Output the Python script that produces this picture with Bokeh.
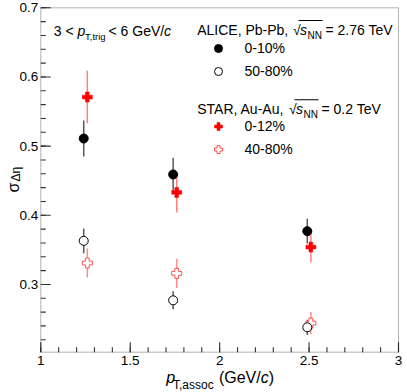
import numpy as np
from bokeh.plotting import figure
from bokeh.models import (Range1d, Label, Legend, LegendItem,
                          ColumnDataSource, BoxAnnotation)
from bokeh.core.properties import value
from bokeh.embed import file_html
from bokeh.resources import INLINE

# ---------------- data ----------------
x_alice = [1.24, 1.74, 2.49]
x_star = [1.26, 1.76, 2.51]

alice_central = [0.511, 0.459, 0.377]
alice_central_err = [0.026, 0.024, 0.018]
alice_periph = [0.363, 0.277, 0.238]
alice_periph_err = [0.018, 0.013, 0.011]

star_central = [0.571, 0.433, 0.354]
star_central_err = [0.038, 0.029, 0.022]
star_periph = [0.331, 0.316, 0.244]
star_periph_err = [0.021, 0.021, 0.016]

x_ticks = [1.0, 1.5, 2.0, 2.5, 3.0]
x_tick_labels = ["1", "1.5", "2", "2.5", "3"]
x_minor = [round(1 + 0.1 * i, 2) for i in range(21)]
y_ticks = [0.3, 0.4, 0.5, 0.6, 0.7]
y_tick_labels = ["0.3", "0.4", "0.5", "0.6", "0.7"]
y_minor = [round(0.22 + 0.02 * i, 2) for i in range(25)]

X_LO, X_HI = 1.0, 3.0
Y_LO, Y_HI = 0.202, 0.7

# ---------------- geometry (canvas px of the axes box) ----------------
W, H = 407, 392
FX0, FX1 = 40.3, 398.0
FY0, FY1 = 7.3, 351.7
KX = (X_HI - X_LO) / (FX1 - FX0)  # data per px
KY = (Y_HI - Y_LO) / (FY1 - FY0)
MAJ, MIN, TW = 10, 5, 1.1          # tick lengths and width, px


def dx(px):
    return X_LO + (px - FX0) * KX


def dy(py):
    return Y_HI - (py - FY0) * KY


FONT = "Liberation Sans"

p = figure(width=W, height=H, output_backend="svg", toolbar_location=None,
           x_range=Range1d(dx(0), dx(W)), y_range=Range1d(dy(H), dy(0)),
           x_axis_type=None, y_axis_type=None, min_border=0)
p.xgrid.visible = False
p.ygrid.visible = False
p.outline_line_color = None
p.background_fill_color = "white"
p.border_fill_color = "white"

# axes box
p.add_layout(BoxAnnotation(left=X_LO, right=X_HI, bottom=Y_LO, top=Y_HI,
                           fill_alpha=0, line_color="black", line_width=1))

# ticks pointing into the box, as thin filled bars built from the tick lists
xt_all = x_ticks + x_minor
xt_len = [MAJ] * len(x_ticks) + [MIN] * len(x_minor)
p.quad(left=[t - TW / 2 * KX for t in xt_all], right=[t + TW / 2 * KX for t in xt_all],
       bottom=[Y_LO] * len(xt_all), top=[Y_LO + n * KY for n in xt_len],
       fill_color="#333333", line_alpha=0)
yt_all = y_ticks + y_minor
yt_len = [MAJ] * len(y_ticks) + [MIN] * len(y_minor)
p.quad(left=[X_LO] * len(yt_all), right=[X_LO + n * KX for n in yt_len],
       bottom=[t - TW / 2 * KY for t in yt_all], top=[t + TW / 2 * KY for t in yt_all],
       fill_color="#333333", line_alpha=0)

# tick labels
p.text(x=x_ticks, y=[Y_LO] * len(x_ticks), text=x_tick_labels, y_offset=4,
       text_align="center", text_baseline="top", text_font=value(FONT),
       text_font_size=value("13.5px"), text_color="black")
p.text(x=[X_LO] * len(y_ticks), y=y_ticks, text=y_tick_labels, x_offset=-2.5,
       text_align="right", text_baseline="middle", text_font=value(FONT),
       text_font_size=value("13.5px"), text_color="black")


def src(xs, ys, es):
    return ColumnDataSource(dict(x=xs, y=ys,
                                 lo=[a - b for a, b in zip(ys, es)],
                                 hi=[a + b for a, b in zip(ys, es)]))


s_ac = src(x_alice, alice_central, alice_central_err)
s_ap = src(x_alice, alice_periph, alice_periph_err)
s_sc = src(x_star, star_central, star_central_err)
s_sp = src(x_star, star_periph, star_periph_err)

# error bars
p.segment(x0="x", y0="lo", x1="x", y1="hi", source=s_ac, line_color="black", line_alpha=0.65, line_width=1.5)
p.segment(x0="x", y0="lo", x1="x", y1="hi", source=s_ap, line_color="black", line_alpha=0.65, line_width=1.5)
p.segment(x0="x", y0="lo", x1="x", y1="hi", source=s_sc, line_color="red", line_alpha=0.5, line_width=1.5)
p.segment(x0="x", y0="lo", x1="x", y1="hi", source=s_sp, line_color="red", line_alpha=0.45, line_width=1.5)

# markers
r_sp = p.scatter("x", "y", source=s_sp, marker="plus", size=10, fill_color="white",
                 line_color="#ff5050", line_width=1)
r_sc = p.scatter("x", "y", source=s_sc, marker="plus", size=10, fill_color="red",
                 line_color="red", line_width=0.5)
r_ap = p.scatter("x", "y", source=s_ap, marker="circle", size=9, fill_color="white",
                 line_color="black", line_width=1)
r_ac = p.scatter("x", "y", source=s_ac, marker="circle", size=9, fill_color="black",
                 line_color="black", line_width=1)


def legend(items, top_px):
    lg = Legend(items=items, location=(207.5, H - (top_px + 43)),
                orientation="vertical", padding=0, margin=0, spacing=3,
                glyph_width=20, glyph_height=20, label_height=20,
                label_standoff=17, label_text_font=FONT,
                label_text_font_size="14px", label_text_color="black",
                background_fill_alpha=0, border_line_alpha=0)
    p.add_layout(lg)


legend([LegendItem(label="0-10%", renderers=[r_ac]),
        LegendItem(label="50-80%", renderers=[r_ap])], 38.3)
legend([LegendItem(label="0-12%", renderers=[r_sc]),
        LegendItem(label="40-80%", renderers=[r_sp])], 115.5)


def txt(text, px, py, size="14px", style="normal", angle=0.0):
    p.add_layout(Label(x=dx(px), y=dy(py), text=text, text_font=FONT,
                       text_font_size=size, text_font_style=style,
                       text_color="black", text_align="left",
                       text_baseline="alphabetic", angle=angle))


def overline(x0, x1, py):
    p.add_layout(BoxAnnotation(left=dx(x0), right=dx(x1), top=dy(py), bottom=dy(py + 1),
                               fill_color="black", fill_alpha=1, line_alpha=0))


# trigger range text
txt("3 <", 53.3, 30)
txt("p", 77, 30, style="italic")
txt("T,trig", 84.5, 35.5, size="9.5px")
txt("< 6 GeV/", 108, 30)
txt("c", 163.5, 30, style="italic")

# ALICE header
txt("ALICE, Pb-Pb,", 196.7, 29.5)
txt("\u221a", 292.5, 29.5)
txt("s", 299.5, 29.5, style="italic")
txt("NN", 307, 35, size="10px")
txt("= 2.76 TeV", 325, 29.5)
overline(298, 322, 19.5)

# STAR header
txt("STAR, Au-Au,", 196.7, 108.7)
txt("\u221a", 288.5, 108.7)
txt("s", 295.5, 108.7, style="italic")
txt("NN", 303, 114.2, size="10px")
txt("= 0.2 TeV", 321, 108.7)
overline(294, 318, 98.7)

# x-axis title
txt("p", 165.7, 377, size="16px", style="italic")
txt("T,assoc", 172.5, 384.5, size="12px")
txt("(GeV/", 218.4, 377, size="16px")
txt("c", 260.2, 377, size="16px", style="italic")
txt(")", 268.2, 377, size="16px")

# y-axis title
txt("\u03c3", 12.5, 192, size="16px", angle=np.pi / 2)
txt("\u0394\u03b7", 15.5, 181, size="12px", angle=np.pi / 2)

open("out.html", "w").write(file_html(p, INLINE))
